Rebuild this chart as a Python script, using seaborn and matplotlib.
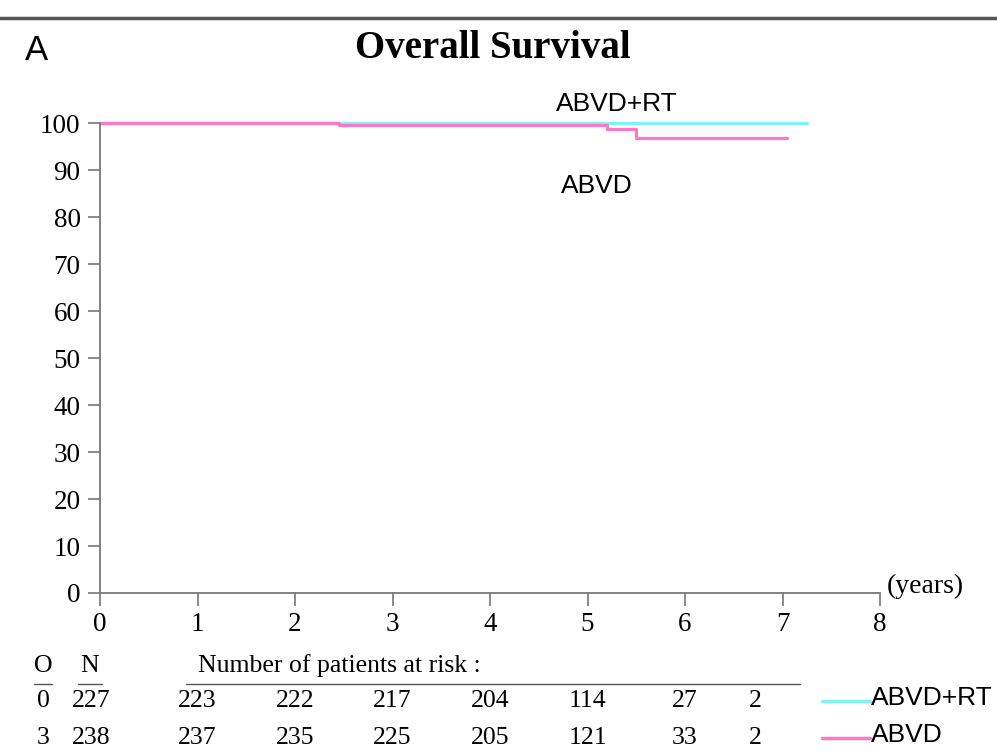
import pandas as pd
import numpy as np
import seaborn as sns
import matplotlib.pyplot as plt
from matplotlib.lines import Line2D

#----------------------------------------
arms = ['ABVD+RT', 'ABVD']
t_rt = [0, 7.25]
s_rt = [100, 100]
t_abvd = [0, 2.45, 5.2, 5.5, 7.05]
s_abvd = [100, 99.6, 98.7, 96.9, 96.9]

events = [0, 3]
n_total = [227, 238]
risk_years = [1, 2, 3, 4, 5, 6, 7]
risk_rt = [223, 222, 217, 204, 114, 27, 2]
risk_abvd = [237, 235, 225, 205, 121, 33, 2]

colors = {'ABVD+RT': '#7ef4f4', 'ABVD': '#ff78c6'}
#----------------------------------------

sns.set_style('white')
plt.rcParams['text.color'] = 'black'
serif = ['Liberation Serif', 'DejaVu Serif']
narrow = ['Liberation Sans Narrow', 'Liberation Sans', 'DejaVu Sans']

df = pd.concat([
    pd.DataFrame({'t': t_rt, 'surv': s_rt, 'arm': 'ABVD+RT'}),
    pd.DataFrame({'t': t_abvd, 'surv': s_abvd, 'arm': 'ABVD'}),
])

W, H = 997, 755
fig = plt.figure(figsize=(W / 100, H / 100), dpi=100)
ax = fig.add_axes([100 / W, 1 - 593 / H, 780 / W, 470 / H])

sns.lineplot(data=df, x='t', y='surv', hue='arm', palette=colors,
             drawstyle='steps-post', estimator=None, legend=False,
             linewidth=2.3, ax=ax, clip_on=False)

ax.set_xlim(0, 8)
ax.set_ylim(0, 100)
ax.set_xticks(range(0, 9))
ax.set_yticks(range(0, 101, 10))
ax.set_xlabel('')
ax.set_ylabel('')
for s in ['top', 'right']:
    ax.spines[s].set_visible(False)
for s in ['left', 'bottom']:
    ax.spines[s].set_color('#777777')
    ax.spines[s].set_linewidth(1.3)
ax.tick_params(axis='both', direction='out', length=9, width=1.2, color='#777777',
               labelsize=19.5, labelcolor='black', bottom=True, left=True)
ax.tick_params(axis='x', pad=5)
ax.tick_params(axis='y', pad=5)
for lab in ax.get_xticklabels() + ax.get_yticklabels():
    lab.set_family(serif)

# titles and labels
fig.text(493 / W, 1 - 49 / H, 'Overall Survival', ha='center', va='center',
         fontsize=28, fontweight='bold', family=serif)
fig.text(25 / W, 1 - 51 / H, 'A', ha='left', va='center', fontsize=25, family=narrow)
fig.text(887 / W, 1 - 586 / H, '(years)', ha='left', va='center', fontsize=20, family=serif)
ax.text(5.3, 104.0, 'ABVD+RT', ha='center', va='center', fontsize=19, family=narrow)
ax.text(5.1, 86.5, 'ABVD', ha='center', va='center', fontsize=19, family=narrow)

# top rule
fig.add_artist(Line2D([0, 1], [1 - 18 / H, 1 - 18 / H], color='#555555', lw=2.5))

# risk table
def data_x(x):
    return (100 + x * 97.5) / W

fs = 18.5
hdr_y = 1 - 666 / H
fig.text(43 / W, hdr_y, 'O', ha='center', va='center', fontsize=fs, family=serif)
fig.text(90 / W, hdr_y, 'N', ha='center', va='center', fontsize=fs, family=serif)
fig.text(198 / W, hdr_y, 'Number of patients at risk :', ha='left', va='center',
         fontsize=fs, family=serif)
ul_y = 1 - 684 / H
fig.add_artist(Line2D([34 / W, 52 / W], [ul_y, ul_y], color='#555555', lw=1))
fig.add_artist(Line2D([78 / W, 102 / W], [ul_y, ul_y], color='#555555', lw=1))
fig.add_artist(Line2D([186 / W, 800 / W], [ul_y, ul_y], color='#555555', lw=1))

row_y = [1 - 701 / H, 1 - 738 / H]
for i, risk in enumerate([risk_rt, risk_abvd]):
    y = row_y[i]
    fig.text(43 / W, y, str(events[i]), ha='center', va='center', fontsize=fs, family=serif)
    fig.text(91 / W, y, str(n_total[i]), ha='center', va='center', fontsize=fs, family=serif)
    for yr, v in zip(risk_years, risk):
        xx = yr if yr < 7 else 6.72
        fig.text(data_x(xx), y, str(v), ha='center', va='center', fontsize=fs, family=serif)
    fig.add_artist(Line2D([822 / W, 870 / W], [y, y], color=colors[arms[i]], lw=2.5))
    fig.text(871 / W, y + 0.004, arms[i], ha='left', va='center', fontsize=19, family=narrow)

fig.savefig('out.png', dpi=100)
